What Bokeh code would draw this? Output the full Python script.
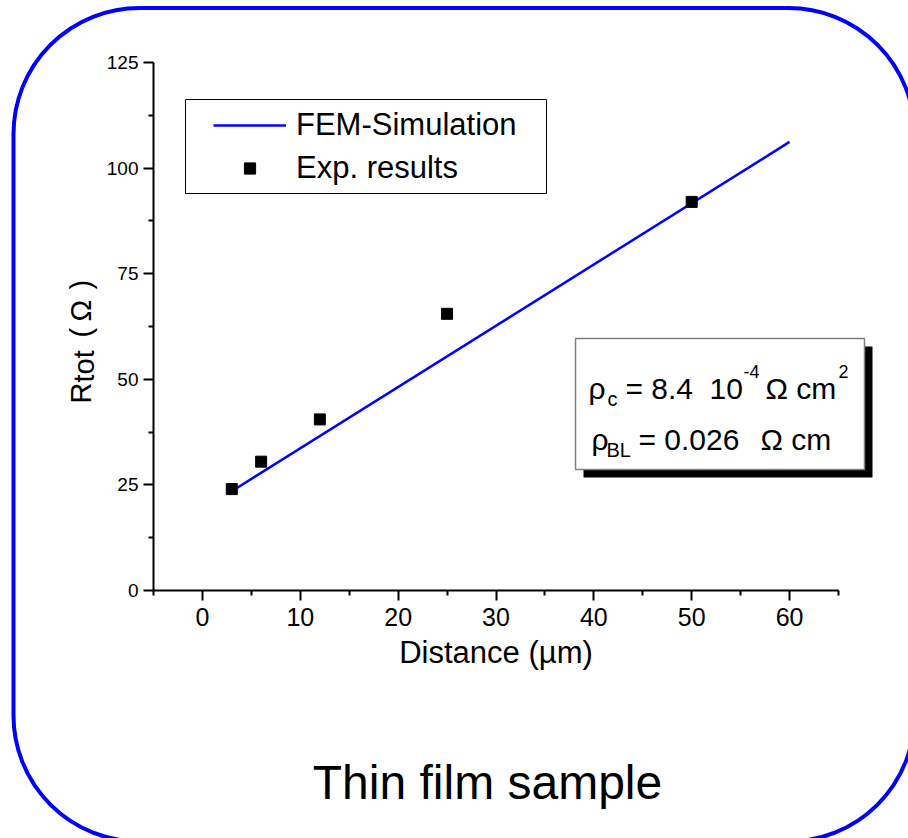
from bokeh.plotting import figure
from bokeh.models import Label, BoxAnnotation, Legend, LegendItem, FixedTicker, Range1d
from bokeh.embed import file_html
from bokeh.resources import INLINE

# ---- data ----
distance_exp = [3, 6, 12, 25, 50]
r_exp = [24.0, 30.5, 40.5, 65.5, 92.0]
distance_fem = [3, 60]
r_fem = [23.5, 106.2]

x_major = [0, 10, 20, 30, 40, 50, 60]
x_minor = [-5, 5, 15, 25, 35, 45, 55, 65]
y_major = [0, 25, 50, 75, 100, 125]
y_minor = [12.5, 37.5, 62.5, 87.5, 112.5]
x_lo, x_hi = -5, 65
y_lo, y_hi = 0, 125

FONT = "Liberation Sans"
W, H = 908, 838
FL, FR, FT, FB = 153, 838, 62, 590  # axes box edges in canvas px

# the frame covers the whole canvas; the axes sit at fixed positions inside it
kx = (FR - FL) / (x_hi - x_lo)
ky = (FB - FT) / (y_hi - y_lo)
x_range = Range1d(x_lo - FL / kx, x_hi + (W - FR) / kx)
y_range = Range1d(y_lo - (H - FB) / ky, y_hi + FT / ky)

p = figure(width=W, height=H, output_backend="svg", toolbar_location=None,
           x_range=x_range, y_range=y_range,
           min_border=0, min_border_left=0, min_border_right=0,
           min_border_top=0, min_border_bottom=0)
p.background_fill_color = "white"
p.border_fill_color = "white"
p.outline_line_color = None
p.grid.visible = False

p.xaxis.fixed_location = y_lo
p.yaxis.fixed_location = x_lo
p.xaxis.bounds = (x_lo, x_hi)
p.yaxis.bounds = (y_lo, y_hi)

for ax in (p.xaxis[0], p.yaxis[0]):
    ax.axis_line_width = 2
    ax.axis_line_color = "black"
    ax.major_tick_line_width = 2
    ax.minor_tick_line_width = 2
    ax.major_tick_line_color = "black"
    ax.minor_tick_line_color = "black"
    ax.major_tick_in = 0
    ax.major_tick_out = 10
    ax.minor_tick_in = 0
    ax.minor_tick_out = 5
    ax.major_label_text_font = FONT
    ax.major_label_text_color = "black"

p.xaxis.ticker = FixedTicker(ticks=x_major, minor_ticks=x_minor)
p.yaxis.ticker = FixedTicker(ticks=y_major, minor_ticks=y_minor)
p.xaxis.major_label_text_font_size = "25px"
p.yaxis.major_label_text_font_size = "19px"
p.xaxis.major_label_standoff = 7
p.yaxis.major_label_standoff = 5
p.xaxis.axis_label = "Distance (µm)"
p.xaxis.axis_label_text_font = FONT
p.xaxis.axis_label_text_font_size = "31px"
p.xaxis.axis_label_text_font_style = "normal"
p.xaxis.axis_label_text_color = "black"
p.xaxis.axis_label_standoff = 6

# data
fem = p.line(distance_fem, r_fem, line_color="#0000FF", line_width=2.5)
exp = p.scatter(distance_exp, r_exp, marker="square", size=11,
                fill_color="black", line_color="black")

def sx(x):
    return x

def sy(y):
    return H - y

def box(l, t, r, b, **kw):
    p.add_layout(BoxAnnotation(left=sx(l), right=sx(r), top=sy(t), bottom=sy(b),
                               left_units="screen", right_units="screen",
                               top_units="screen", bottom_units="screen", **kw))

# outer rounded border
box(13, 7.5, 914, 841, fill_alpha=0, line_color="#0000FF", line_alpha=1,
    line_width=4, border_radius=126, level="underlay")

# legend frame
box(185, 99, 546, 193, fill_color="white", fill_alpha=1,
    line_color="black", line_alpha=1, line_width=1)

legend = Legend(items=[LegendItem(label="FEM-Simulation", renderers=[fem]),
                       LegendItem(label="Exp. results", renderers=[exp])],
                location=(sx(213), sy(186)),
                label_text_font=FONT, label_text_font_size="31px",
                label_text_color="black",
                glyph_width=73, glyph_height=28, label_standoff=10,
                spacing=7, padding=0, margin=0,
                border_line_alpha=0, background_fill_alpha=0)
p.add_layout(legend)

# inset box with shadow
box(583, 346, 872, 477, fill_color="black", fill_alpha=1, line_alpha=0)
box(575, 338, 864, 469, fill_color="white", fill_alpha=1,
    line_color="#808080", line_alpha=1, line_width=1.5)

def lab(text, x, y, size, angle=0, align="left"):
    p.add_layout(Label(x=sx(x), y=sy(y), x_units="screen", y_units="screen",
                       text=text, text_font=FONT, text_font_size=f"{size}px",
                       text_color="black", text_baseline="alphabetic",
                       text_align=align, angle=angle, angle_units="deg"))

# inset text
lab("ρ", 588, 388, 30)
lab("c", 607, 398, 20)
lab("= 8.4", 625, 388, 30)
lab("10", 709, 388, 30)
lab("-4", 743, 371, 18)
lab("Ω cm", 765, 388, 30)
lab("2", 838, 371, 18)
lab("ρ", 591, 439, 30)
lab("BL", 606, 449, 20)
lab("= 0.026", 638, 439, 30)
lab("Ω cm", 760, 439, 30)

# y-axis label (rotated)
lab("R", 80.7, 403, 29, angle=90)
lab("tot", 83.5, 382, 29, angle=90)
lab("(", 80.7, 337, 29, angle=90)
lab("Ω", 80.7, 321, 29, angle=90)
lab(")", 80.7, 289, 29, angle=90)

# caption
lab("Thin film sample", 487, 782, 48, align="center")

open("out.html", "w").write(file_html(p, INLINE))
